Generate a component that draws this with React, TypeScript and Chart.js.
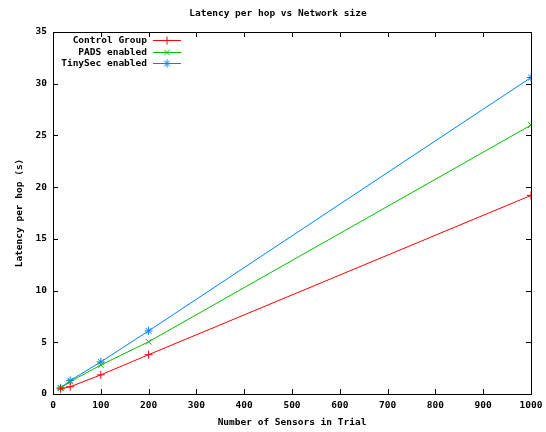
import { useEffect, useRef } from 'react';
import { Chart, registerables } from 'chart.js';
Chart.register(...registerables);

const sensors = [16, 36, 100, 200, 1000];
const controlGroup = [0.5, 0.7, 1.85, 3.8, 19.2];
const padsEnabled = [0.55, 1.2, 2.8, 5.05, 26.0];
const tinySecEnabled = [0.6, 1.3, 3.1, 6.1, 30.6];
const seriesNames = ['Control Group', 'PADS enabled', 'TinySec enabled'];
const seriesColors = ['#ff0000', '#00c000', '#0080ff'];
const seriesMarkers = ['cross', 'crossRot', 'star'];
const chartTitle = 'Latency per hop vs Network size';
const xTitle = 'Number of Sensors in Trial';
const yTitle = 'Latency per hop (s)';

const FONT = '"DejaVu Sans Mono", monospace';

const framePlugin = {
  id: 'gnuFrame',
  afterDraw(chart: any) {
    const { ctx, chartArea: a, scales } = chart;
    ctx.save();
    ctx.strokeStyle = '#000';
    ctx.lineWidth = 1;
    ctx.strokeRect(Math.round(a.left) + 0.5, Math.round(a.top) + 0.5, Math.round(a.right - a.left), Math.round(a.bottom - a.top));
    const tl = 5;
    ctx.beginPath();
    scales.x.ticks.forEach((t: any) => {
      const x = Math.round(scales.x.getPixelForValue(t.value)) + 0.5;
      ctx.moveTo(x, a.bottom); ctx.lineTo(x, a.bottom - tl);
      ctx.moveTo(x, a.top); ctx.lineTo(x, a.top + tl);
    });
    scales.y.ticks.forEach((t: any) => {
      const y = Math.round(scales.y.getPixelForValue(t.value)) + 0.5;
      ctx.moveTo(a.left, y); ctx.lineTo(a.left + tl, y);
      ctx.moveTo(a.right, y); ctx.lineTo(a.right - tl, y);
    });
    ctx.stroke();

    ctx.fillStyle = '#000';
    ctx.font = `bold 9.5px ${FONT}`;
    ctx.textAlign = 'center';
    ctx.textBaseline = 'middle';
    ctx.fillText(chartTitle, 278, 14);
    ctx.fillText(xTitle, 292, 423);
    ctx.save();
    ctx.translate(20, 213);
    ctx.rotate(-Math.PI / 2);
    ctx.fillText(yTitle, 0, 0);
    ctx.restore();

    // legend
    chart.data.datasets.forEach((d: any, i: number) => {
      const y = Math.round(40 + i * 11.7) + 0.5;
      ctx.textAlign = 'right';
      ctx.fillStyle = '#000';
      ctx.fillText(d.label, 147, y);
      ctx.strokeStyle = d.borderColor;
      ctx.lineWidth = 1;
      ctx.beginPath();
      ctx.moveTo(153, y);
      ctx.lineTo(181, y);
      const r = 4;
      const cx = 167;
      if (d.pointStyle === 'cross' || d.pointStyle === 'star') {
        ctx.moveTo(cx, y - r); ctx.lineTo(cx, y + r);
        ctx.moveTo(cx - r, y); ctx.lineTo(cx + r, y);
      }
      if (d.pointStyle === 'crossRot' || d.pointStyle === 'star') {
        const k = r * 0.7071;
        ctx.moveTo(cx - k, y - k); ctx.lineTo(cx + k, y + k);
        ctx.moveTo(cx + k, y - k); ctx.lineTo(cx - k, y + k);
      }
      ctx.stroke();
    });
    ctx.restore();
  },
};

export default function App() {
  const ref = useRef<HTMLCanvasElement>(null);
  useEffect(() => {
    const datasets = [controlGroup, padsEnabled, tinySecEnabled].map((vals, i) => ({
      label: seriesNames[i],
      data: sensors.map((x, j) => ({ x, y: vals[j] })),
      borderColor: seriesColors[i],
      backgroundColor: seriesColors[i],
      borderWidth: 1,
      pointStyle: seriesMarkers[i],
      pointRadius: 4,
      pointBorderWidth: 1,
      tension: 0,
    }));
    const chart = new Chart(ref.current!, {
      type: 'line',
      data: { datasets },
      options: {
        animation: false,
        responsive: false,
        maintainAspectRatio: false,
        layout: { padding: { top: 32, right: 15, left: 0, bottom: 0 } },
        plugins: { legend: { display: false }, title: { display: false }, tooltip: { enabled: false } },
        scales: {
          x: {
            type: 'linear', min: 0, max: 1000,
            ticks: { stepSize: 100, color: '#000', font: { family: FONT, size: 9.5, weight: 'bold' }, padding: 6, maxRotation: 0, callback: (v: any) => String(v) },
            grid: { display: false, drawTicks: false },
            border: { display: false },
            afterFit: (s: any) => { s.height = 38; s.paddingLeft = 0; s.paddingRight = 0; },
          },
          y: {
            type: 'linear', min: 0, max: 35,
            ticks: { stepSize: 5, color: '#000', font: { family: FONT, size: 9.5, weight: 'bold' }, padding: 6 },
            grid: { display: false, drawTicks: false },
            border: { display: false },
            afterFit: (s: any) => { s.width = 53; s.paddingTop = 0; s.paddingBottom = 0; },
          },
        },
      },
      plugins: [framePlugin],
    });
    return () => chart.destroy();
  }, []);
  return (
    <div style={{ position: 'fixed', left: 0, top: 0, width: 546, height: 432, background: '#fff' }}>
      <canvas ref={ref} width={546} height={432} style={{ width: 546, height: 432 }} />
    </div>
  );
}
